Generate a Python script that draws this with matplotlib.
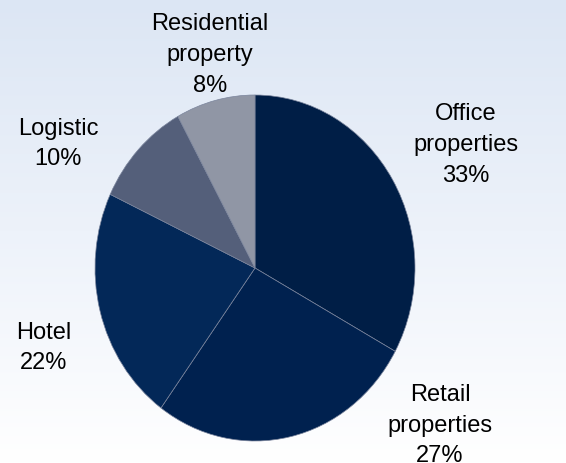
import numpy as np
import matplotlib
matplotlib.use("Agg")
import matplotlib.pyplot as plt
from matplotlib.colors import LinearSegmentedColormap

# portfolio split by property type
sectors = ["Office\nproperties", "Retail\nproperties", "Hotel", "Logistic", "Residential\nproperty"]
shares = [33, 27, 22, 10, 8]
colors = ["#001e46", "#00214f", "#032858", "#545f7a", "#9096a5"]

# label centres in figure pixels (x, y from top)
label_pos = [(466, 145), (440, 426), (44, 348), (58, 144), (210, 55)]

W, H = 566, 464
fig = plt.figure(figsize=(W / 100, H / 100), dpi=100)

# light blue to white background
bg = fig.add_axes([0, 0, 1, 1])
grad = np.linspace(0, 1, 256).reshape(-1, 1)
cmap = LinearSegmentedColormap.from_list("bg", ["#dce6f4", "#edf2fa", "#ffffff"])
bg.imshow(grad, aspect="auto", cmap=cmap, extent=[0, 1, 0, 1])
bg.axis("off")

# pie box: slightly taller than wide
left, right, top, bottom = 95, 415, 96, 442
ax = fig.add_axes([left / W, (H - bottom) / H, (right - left) / W, (bottom - top) / H])
ax.pie(shares, colors=colors, startangle=90, counterclock=False,
       wedgeprops=dict(edgecolor="#7a849c", linewidth=0.5))
ax.set_aspect("auto")
ax.set_xlim(-1, 1)
ax.set_ylim(-1, 1)
ax.axis("off")

for name, pct, (px, py) in zip(sectors, shares, label_pos):
    fig.text(px / W, 1 - py / H, f"{name}\n{pct}%", ha="center", va="center",
             multialignment="center", fontsize=17, family="Liberation Sans",
             color="#000000", linespacing=1.5)

fig.savefig("out.png", dpi=100)
